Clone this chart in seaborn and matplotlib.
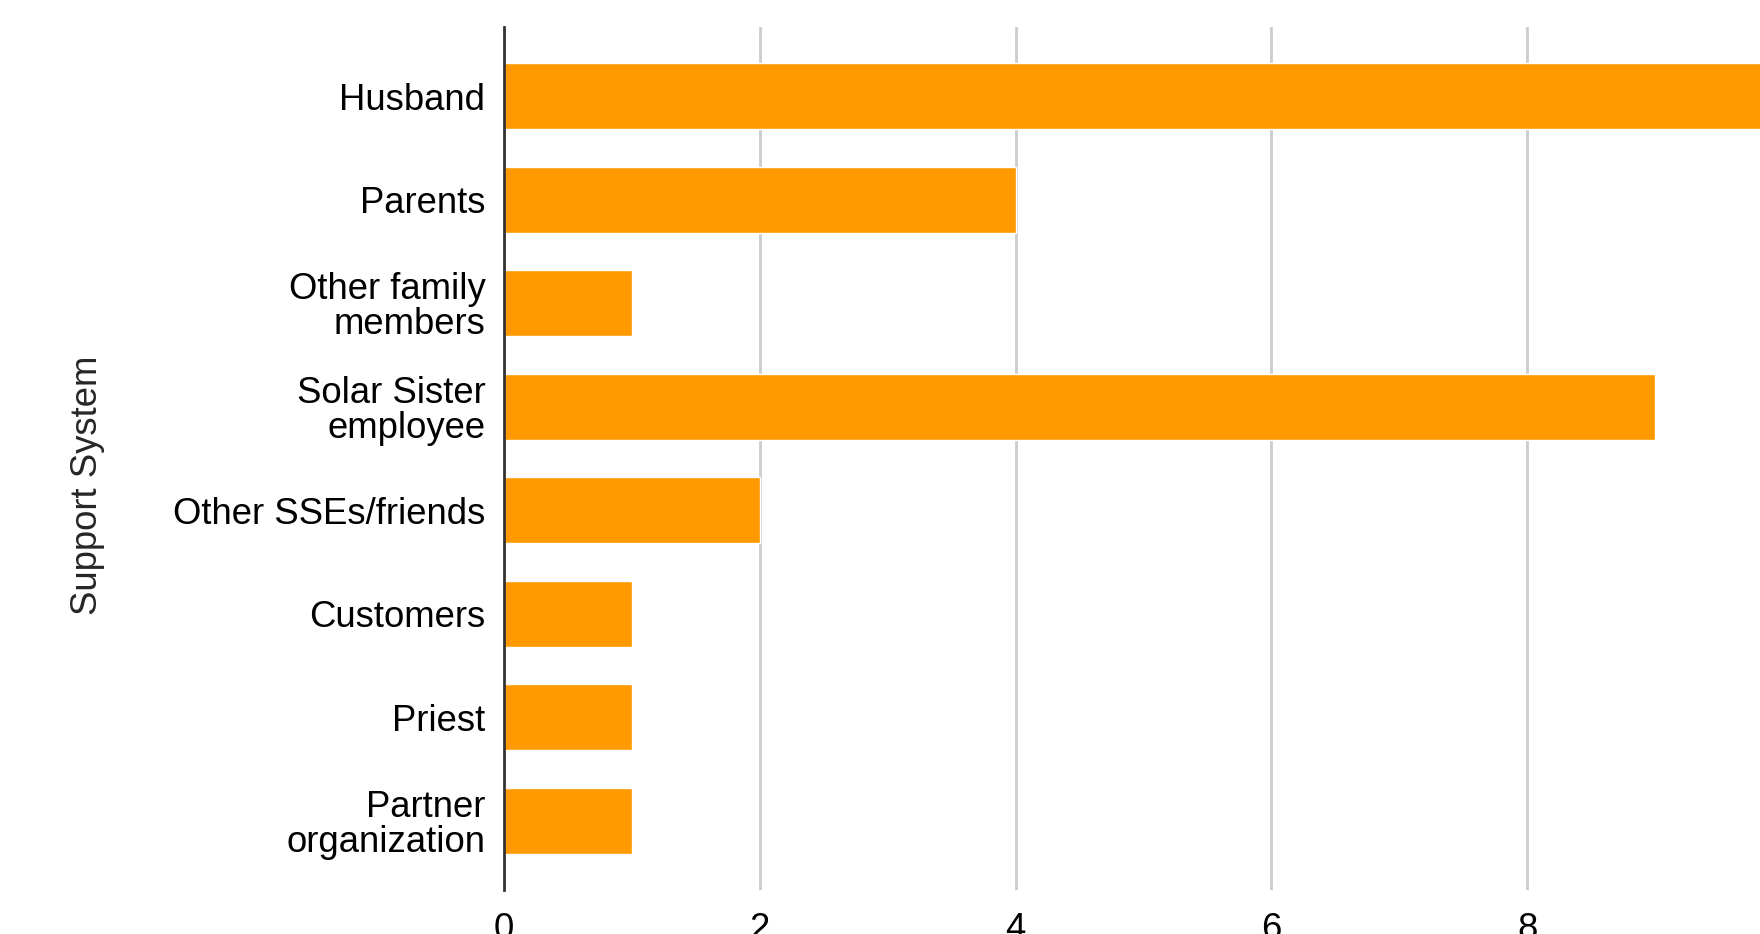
import matplotlib
matplotlib.use("Agg")
import matplotlib.pyplot as plt
import seaborn as sns
import pandas as pd

categories = ["Husband", "Parents", "Other family\nmembers", "Solar Sister\nemployee",
              "Other SSEs/friends", "Customers", "Priest", "Partner\norganization"]
values = [10, 4, 1, 9, 2, 1, 1, 1]
x_ticks = [0, 2, 4, 6, 8, 10, 12]
y_title = "Support System"

sns.set_style("white")
plt.rcParams['font.family'] = ['Liberation Sans', 'DejaVu Sans']

df = pd.DataFrame({"cat": categories, "val": values})

W, H = 1760, 934
fig = plt.figure(figsize=(W / 100, H / 100), dpi=100)
left = 504 / W
bottom = (H - 890) / H
unit = 127.9
xmax = 12
ax = fig.add_axes([left, bottom, xmax * unit / W, 863 / H])

sns.barplot(data=df, x="val", y="cat", orient="h", color="#FF9900",
            saturation=1, width=0.64, ax=ax, zorder=3)

ax.set_xlim(0, xmax)
ax.set_ylim(7.67, -0.67)
ax.set_xticks(x_ticks)
ax.set_xticklabels([str(t) for t in x_ticks])
ax.grid(axis="x", color="#cccccc", linewidth=2, zorder=0)
ax.grid(axis="y", visible=False)
for s in ["top", "right", "bottom"]:
    ax.spines[s].set_visible(False)
ax.spines["left"].set_color("#333333")
ax.spines["left"].set_linewidth(2)
ax.spines["left"].set_zorder(5)
ax.tick_params(axis="both", length=0, labelsize=26.3, colors="#000000")
ax.tick_params(axis="y", pad=13.5)
ax.tick_params(axis="x", pad=16)
for lbl in ax.get_yticklabels():
    lbl.set_linespacing(1.0)
ax.set_xlabel("")
ax.set_ylabel("")
fig.text(87.5 / W, 1 - 485 / H, y_title, rotation=90, fontsize=26.3,
         ha="center", va="center")

fig.savefig("out.png", dpi=100)
